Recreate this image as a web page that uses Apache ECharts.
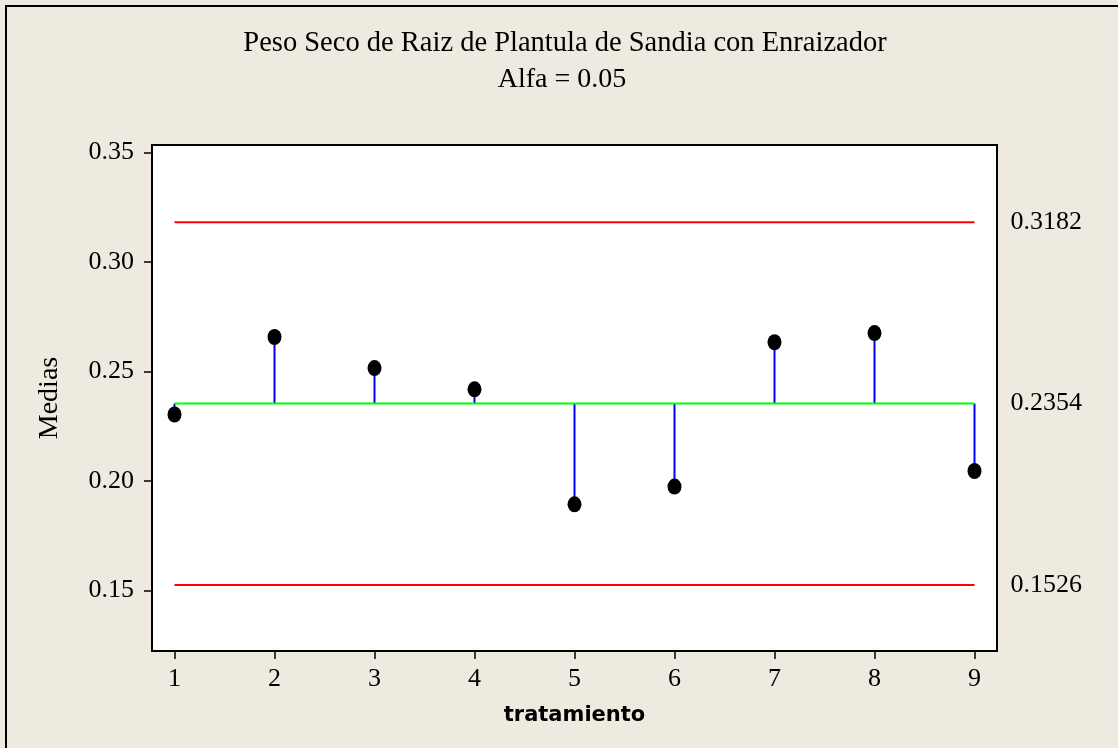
<!DOCTYPE html>
<html>
<head>
<meta charset="utf-8">
<script src="https://cdn.jsdelivr.net/npm/echarts@6/dist/echarts.min.js"></script>
<style>
  html, body { margin: 0; padding: 0; background: #EEEAE0; }
  #chart { width: 1118px; height: 748px; }
</style>
</head>
<body>
<div id="chart"></div>
<script>
// Treatment numbers and their mean root dry weight
const tratamientos = [1, 2, 3, 4, 5, 6, 7, 8, 9];
const medias = [0.2304, 0.2658, 0.2516, 0.2419, 0.1894, 0.1975, 0.2634, 0.2676, 0.2046];

// Decision limits (ANOM, alpha = 0.05)
const limiteSuperior = 0.3182;
const lineaCentral = 0.2354;
const limiteInferior = 0.1526;

// Tick values
const xTicks = [1, 2, 3, 4, 5, 6, 7, 8, 9];
const yTicks = [0.15, 0.20, 0.25, 0.30, 0.35];

const serif = "'Liberation Serif', 'Times New Roman', serif";

const chart = echarts.init(document.getElementById('chart'));

function limitSeries(name, value, color) {
  return {
    name: name,
    type: 'line',
    data: [[tratamientos[0], value], [tratamientos[tratamientos.length - 1], value]],
    symbol: 'none',
    lineStyle: { color: color, width: 2 },
    silent: true,
    z: 2,
    endLabel: {
      show: true,
      distance: 36,
      color: '#000',
      fontFamily: serif,
      fontSize: 26,
      formatter: () => value.toFixed(4)
    }
  };
}

const option = {
  backgroundColor: '#EEEAE0',
  animation: false,
  title: [
    {
      text: 'Peso Seco de Raiz de Plantula de Sandia con Enraizador',
      left: 560, top: 24, textAlign: 'center',
      textStyle: { fontFamily: serif, fontSize: 28.5, fontWeight: 'normal', color: '#000' }
    },
    {
      text: 'Alfa = 0.05',
      left: 557, top: 61, textAlign: 'center',
      textStyle: { fontFamily: serif, fontSize: 28, fontWeight: 'normal', color: '#000' }
    }
  ],
  graphic: [
    {
      type: 'rect',
      shape: { x: 6, y: 6, width: 1200, height: 800 },
      style: { fill: 'none', stroke: '#000', lineWidth: 2 },
      silent: true
    }
  ],
  grid: {
    left: 152, right: 121, top: 145, bottom: 97,
    show: true, backgroundColor: '#FFFFFF', borderColor: '#000', borderWidth: 2
  },
  xAxis: {
    type: 'value',
    min: 0.775, max: 9.225,
    name: 'tratamiento',
    nameLocation: 'middle',
    nameGap: 54,
    nameTextStyle: { fontFamily: "'DejaVu Sans', sans-serif", fontWeight: 'bold', fontSize: 21, color: '#000' },
    axisLine: { show: true, lineStyle: { color: '#000', width: 2 } },
    axisTick: { show: true, customValues: xTicks, length: 8, lineStyle: { color: '#000', width: 1.5 } },
    axisLabel: {
      customValues: xTicks, margin: 15,
      fontFamily: serif, fontSize: 26, color: '#000',
      formatter: v => String(v)
    },
    splitLine: { show: false }
  },
  yAxis: {
    type: 'value',
    min: 0.1224, max: 0.3535,
    name: 'Medias',
    nameLocation: 'middle',
    nameGap: 88,
    nameTextStyle: { fontFamily: serif, fontSize: 28, color: '#000' },
    axisLine: { show: true, lineStyle: { color: '#000', width: 2 } },
    axisTick: { show: true, customValues: yTicks, length: 8, lineStyle: { color: '#000', width: 1.5 } },
    axisLabel: {
      customValues: yTicks, margin: 18,
      fontFamily: serif, fontSize: 26, color: '#000',
      formatter: v => v.toFixed(2)
    },
    splitLine: { show: false }
  },
  series: [
    limitSeries('LDS', limiteSuperior, '#FF0000'),
    limitSeries('Línea central', lineaCentral, '#00FF00'),
    limitSeries('LDI', limiteInferior, '#FF0000'),
    {
      name: 'Desviación',
      type: 'custom',
      data: tratamientos.map((t, i) => [t, medias[i]]),
      encode: { x: 0, y: 1 },
      z: 1,
      silent: true,
      renderItem: function (params, api) {
        const x = api.value(0);
        const p0 = api.coord([x, lineaCentral]);
        const p1 = api.coord([x, api.value(1)]);
        return {
          type: 'line',
          shape: { x1: p0[0], y1: p0[1], x2: p1[0], y2: p1[1] },
          style: { stroke: '#0000FF', lineWidth: 2 }
        };
      }
    },
    {
      name: 'Medias',
      type: 'scatter',
      data: tratamientos.map((t, i) => [t, medias[i]]),
      symbol: 'circle',
      symbolSize: [14, 16],
      itemStyle: { color: '#000', opacity: 1 },
      z: 3
    }
  ]
};

chart.setOption(option);
</script>
</body>
</html>
